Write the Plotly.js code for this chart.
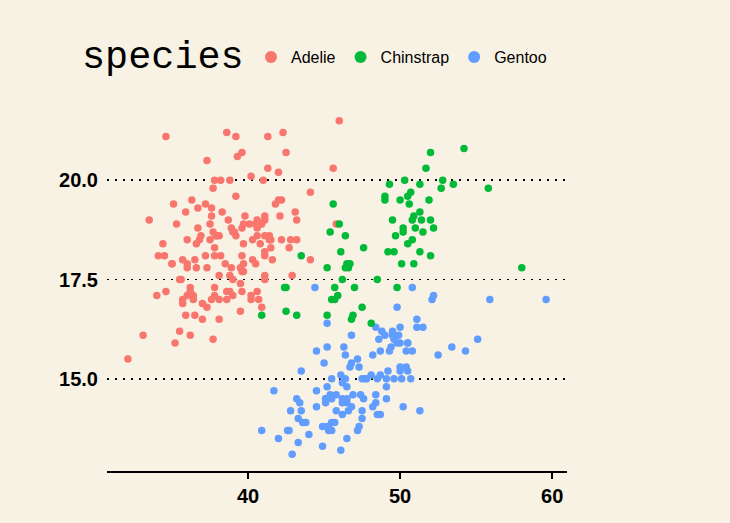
<!DOCTYPE html>
<html>
<head>
<meta charset="utf-8">
<script src="https://cdn.plot.ly/plotly-3.0.1.min.js"></script>
<style>html,body{margin:0;padding:0;background:#F8F2E4;}#chart{width:730px;height:523px;}</style>
</head>
<body>
<div id="chart"></div>
<script>
const adelieLength = [39.1,39.5,40.3,36.7,39.3,38.9,39.2,34.1,42.0,37.8,37.8,41.1,38.6,34.6,36.6,38.7,42.5,34.4,46.0,37.8,37.7,35.9,38.2,38.8,35.3,40.6,40.5,37.9,40.5,39.5,37.2,39.5,40.9,36.4,39.2,38.8,42.2,37.6,39.8,36.5,40.8,36.0,44.1,37.0,39.6,41.1,37.5,36.0,42.3,39.6,40.1,35.0,42.0,34.5,41.4,39.0,40.6,36.5,37.6,35.7,41.3,37.6,41.1,36.4,41.6,35.5,41.1,35.9,41.8,33.5,39.7,39.6,45.8,35.5,42.8,40.9,37.2,36.2,42.1,34.6,42.9,36.7,35.1,37.3,41.3,36.3,36.9,38.3,38.9,35.7,41.1,34.0,39.6,36.2,40.8,38.1,40.3,33.1,43.2,35.0,41.0,37.7,37.8,37.9,39.7,38.6,38.2,38.1,43.2,38.1,45.6,39.7,42.2,39.6,42.7,38.6,37.3,35.7,41.1,36.2,37.7,40.2,41.4,35.2,40.6,38.8,41.5,39.0,44.1,38.5,43.1,36.8,37.5,38.1,41.1,35.6,40.2,37.0,39.7,40.2,40.6,32.1,40.7,37.3,39.0,39.2,36.6,36.0,37.8,36.0,41.5];
const adelieDepth = [18.7,17.4,18.0,19.3,20.6,17.8,19.6,18.1,20.2,17.1,17.3,17.6,21.2,21.1,17.8,19.0,20.7,18.4,21.5,18.3,18.7,19.2,18.1,17.2,18.9,18.6,17.9,18.6,18.9,16.7,18.1,17.8,18.9,17.0,21.1,20.0,18.5,19.3,19.1,18.0,18.4,18.5,19.7,16.9,18.8,19.0,18.9,17.9,21.2,17.7,18.9,17.9,19.5,18.1,18.6,17.5,18.8,16.6,19.1,16.9,21.1,17.0,18.2,17.1,18.0,16.2,19.1,16.6,19.4,19.0,18.4,17.2,18.9,17.5,18.5,16.8,19.4,16.1,19.1,17.2,17.6,18.8,19.4,17.8,20.3,19.5,18.6,19.2,18.8,18.0,18.1,17.1,18.1,17.3,18.9,18.6,18.5,16.1,18.5,17.9,20.0,16.0,20.0,18.6,18.9,17.2,20.0,17.0,19.0,16.5,20.3,17.7,19.5,20.7,18.3,17.0,20.5,17.0,18.6,17.2,19.8,17.0,18.5,15.9,19.0,17.6,18.3,17.1,18.0,17.9,19.2,18.5,18.5,17.6,17.5,17.5,20.1,16.5,17.9,17.1,17.2,15.5,17.0,16.8,18.7,18.6,18.4,17.8,18.1,17.1,18.5];

const gentooLength = [46.1,50.0,48.7,50.0,47.6,46.5,45.4,46.7,43.3,46.8,40.9,49.0,45.5,48.4,45.8,49.3,42.0,49.2,46.2,48.7,50.2,45.1,46.5,46.3,42.9,46.1,44.5,47.8,48.2,50.0,47.3,42.8,45.1,59.6,49.1,48.4,42.6,44.4,44.0,48.7,42.7,49.6,45.3,49.6,50.5,43.6,45.5,50.5,44.9,45.2,46.6,48.5,45.1,50.1,46.5,45.0,43.8,45.5,43.2,50.4,45.3,46.2,45.7,54.3,45.8,49.8,46.2,49.5,43.5,50.7,47.7,46.4,48.2,46.5,46.4,48.6,47.5,51.1,45.2,45.2,49.1,52.5,47.4,50.0,44.9,50.8,43.4,51.3,47.5,52.1,47.5,52.2,45.5,49.5,44.5,50.8,49.4,46.9,48.4,51.1,48.5,55.9,47.2,49.1,47.3,46.8,41.7,53.4,43.3,48.1,50.5,49.8,43.5,51.5,46.2,55.1,44.5,48.8,47.2,46.8,50.4,45.2,49.9];
const gentooDepth = [13.2,16.3,14.1,15.2,14.5,13.5,14.6,15.3,13.4,15.4,13.7,16.1,13.7,14.6,14.6,15.7,13.5,15.2,14.5,15.1,14.3,14.5,14.5,15.8,13.1,15.1,14.3,15.0,14.3,15.3,15.3,14.2,14.5,17.0,14.8,16.3,13.7,17.3,13.6,15.7,13.7,16.0,13.7,15.0,15.9,13.9,13.9,15.9,13.3,15.8,14.2,14.1,14.4,15.0,14.4,15.4,13.9,15.0,14.5,15.3,13.8,14.9,13.9,15.7,14.2,16.8,14.4,16.2,14.2,15.0,15.0,15.6,15.6,14.8,15.0,16.0,14.2,16.3,13.8,16.4,14.5,15.6,14.6,15.9,13.8,17.3,14.4,14.2,14.0,17.0,15.0,17.1,14.5,16.1,14.7,15.7,15.8,14.6,14.4,16.5,15.0,17.0,15.5,15.0,13.8,16.1,14.7,15.8,14.0,15.1,15.2,15.9,15.2,16.3,14.1,16.0,15.7,16.2,13.7,14.3,15.7,14.8,16.1];

const chinstrapLength = [46.5,50.0,51.3,45.4,52.7,45.2,46.1,51.3,46.0,51.3,46.6,51.7,47.0,52.0,45.9,50.5,50.3,58.0,46.4,49.2,42.4,48.5,43.2,50.6,46.7,52.0,50.5,49.5,46.4,52.8,40.9,54.2,42.5,51.0,49.7,47.5,47.6,52.0,46.9,53.5,49.0,46.2,50.9,45.5,50.9,50.8,50.1,49.0,51.5,49.8,48.1,51.4,45.7,50.7,42.5,52.2,45.2,49.3,50.2,45.6,51.9,46.8,45.7,55.8,43.5,49.6,50.8,50.2];
const chinstrapDepth = [17.9,19.5,19.2,18.7,19.8,17.8,18.2,18.2,18.9,19.9,17.8,20.3,17.3,18.1,17.1,19.6,20.0,17.8,18.6,18.2,17.3,17.5,16.6,19.4,17.9,19.0,18.4,19.0,17.8,20.0,16.6,20.8,16.7,18.8,18.6,16.8,18.3,20.7,16.6,19.9,19.5,17.5,19.1,17.0,17.9,18.5,17.9,19.6,18.7,17.3,16.4,19.0,17.3,19.7,17.3,18.8,16.6,19.9,18.8,19.4,19.5,16.5,17.0,19.8,18.1,18.2,19.0,18.7];

const xTicks = [40, 50, 60];
const yTicks = [15.0, 17.5, 20.0];
const yTickText = ['15.0', '17.5', '20.0'];
const legendTitle = 'species';

function trace(name, x, y, color, rank) {
  return {type: 'scatter', mode: 'markers', name: name, x: x, y: y, legendrank: rank,
    marker: {color: color, size: 7.5, line: {width: 0}}};
}

const data = [
  trace('Adelie', adelieLength, adelieDepth, '#F8766D', 1),
  trace('Gentoo', gentooLength, gentooDepth, '#619CFF', 3),
  trace('Chinstrap', chinstrapLength, chinstrapDepth, '#00BA38', 2)
];

const layout = {
  width: 730, height: 523,
  paper_bgcolor: '#F8F2E4', plot_bgcolor: '#F8F2E4',
  margin: {l: 107, r: 163, t: 104, b: 52},
  font: {family: 'Liberation Sans, Arial, sans-serif', color: '#000'},
  showlegend: true,
  legend: {
    orientation: 'h', xref: 'container', yref: 'container',
    x: 251 / 730, y: 1 - 57 / 523, xanchor: 'left', yanchor: 'middle',
    bgcolor: 'rgba(0,0,0,0)',
    font: {family: 'Liberation Sans, Arial, sans-serif', size: 16, color: '#000'},
    itemsizing: 'constant'
  },
  annotations: [{
    text: legendTitle, xref: 'paper', yref: 'paper', showarrow: false,
    x: (80 - 107) / 460, y: 1 + (104 - 58) / 367, xanchor: 'left', yanchor: 'middle',
    font: {family: 'Liberation Mono, Courier New, monospace', size: 38.5, color: '#000'}
  }],
  xaxis: {
    range: [30.725, 60.975], tickvals: xTicks, ticktext: xTicks.map(String),
    showgrid: false, zeroline: false,
    showline: true, linecolor: '#000', linewidth: 2,
    ticks: 'outside', ticklen: 6, tickwidth: 1.5, tickcolor: '#000',
    tickfont: {size: 20, family: 'Liberation Sans, Arial, sans-serif', weight: 'bold', color: '#000'}
  },
  yaxis: {
    range: [12.68, 21.92], tickvals: yTicks, ticktext: yTickText,
    showgrid: true, gridcolor: '#000', gridwidth: 1.8, griddash: '2px,6px',
    zeroline: false, showline: false, ticks: '',
    ticklabelstandoff: 8,
    tickfont: {size: 20, family: 'Liberation Sans, Arial, sans-serif', weight: 'bold', color: '#000'}
  }
};

Plotly.newPlot('chart', data, layout, {displayModeBar: false, staticPlot: true});
</script>
</body>
</html>
